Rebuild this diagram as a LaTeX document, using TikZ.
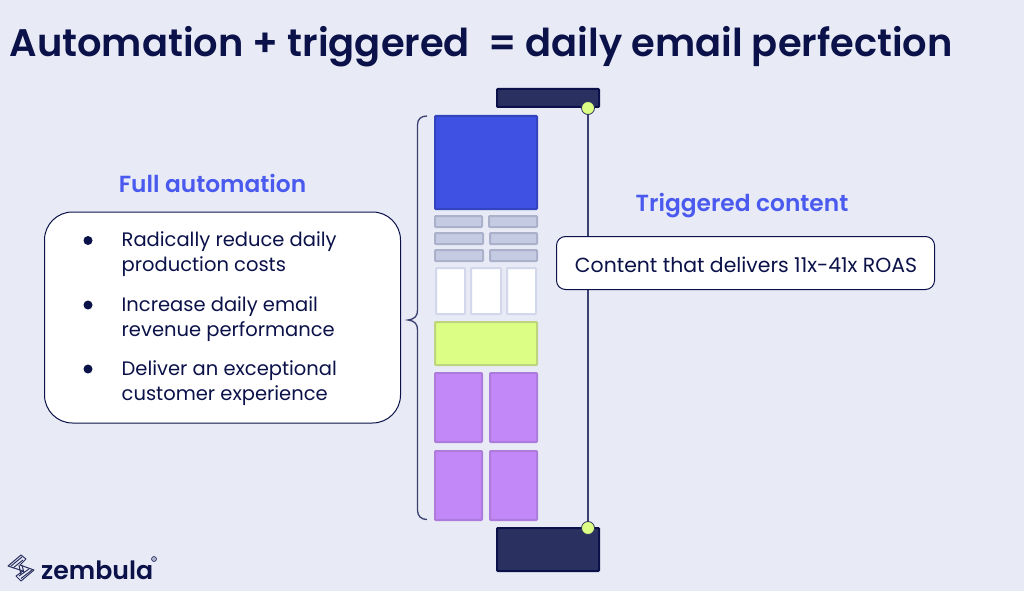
\documentclass[tikz,border=0pt]{standalone}
\usepackage{fontspec}
\setmainfont{Poppins}
\newfontfamily\semi{Poppins SemiBold}
\definecolor{bg}{HTML}{E8EBF6}
\definecolor{navy}{HTML}{0B1149}
\definecolor{darkbox}{HTML}{2A3060}
\definecolor{railc}{HTML}{3A4070}
\definecolor{royal}{HTML}{3F51E3}
\definecolor{royaledge}{HTML}{3345BE}
\definecolor{heading}{HTML}{4A5AEF}
\definecolor{lime}{HTML}{DCFE85}
\definecolor{limeedge}{HTML}{BDD57F}
\definecolor{grayfill}{HTML}{C6CBE4}
\definecolor{grayedge}{HTML}{ABB0CB}
\definecolor{whiteedge}{HTML}{D3D7EC}
\definecolor{purple}{HTML}{C388F7}
\definecolor{purpleedge}{HTML}{AD7BDC}
\tikzset{
  x=1pt,y=-1pt,
  bluebox/.style={draw=royaledge,fill=royal,line width=2pt,rounded corners=.8pt},
  graybox/.style={draw=grayedge,fill=grayfill,line width=2pt,rounded corners=.8pt},
  whitebox/.style={draw=whiteedge,fill=white,line width=2pt,rounded corners=.8pt},
  limebox/.style={draw=limeedge,fill=lime,line width=2pt,rounded corners=.8pt},
  purplebox/.style={draw=purpleedge,fill=purple,line width=2pt,rounded corners=.8pt},
  navybox/.style={draw=navy,fill=darkbox,line width=2pt,rounded corners=.8pt},
  conn/.style={draw=railc,line width=1.3pt},
  dot/.style={circle,draw=darkbox,fill=lime,line width=.8pt,minimum size=13pt,inner sep=0pt},
  callout/.style={draw=navy,fill=white,line width=1pt,rounded corners=#1,inner sep=0pt},
  head/.style={text=heading,font=\fontsize{23.3}{27}\semi,inner sep=0pt},
  body/.style={text=navy,font=\fontsize{19.5}{24.5}\selectfont,inner sep=0pt,anchor=west,align=left},
  bul/.style={circle,fill=navy,minimum size=9pt,inner sep=0pt},
}
\begin{document}
\begin{tikzpicture}
\useasboundingbox[fill=bg] (0,0) rectangle (1024,591);
\node[text=navy,font=\fontsize{38.4}{44}\semi,anchor=west,inner sep=0pt] (title) at (9.5,46.5) {Automation + triggered\ \ = daily email perfection};

% right rail
\path[navybox] (497,89) rectangle (599,107);
\path[navybox] (497,528) rectangle (599,571);
\coordinate (t1) at (588,108);
\coordinate (t2) at (588,528);
\draw[conn] (t1) -- (t2);
\node[dot] (d1) at (t1) {};
\node[dot] (d2) at (t2) {};

% email column
\path[bluebox] (435,116) rectangle (537,209);
\path[graybox] (435,216) rectangle (482,227);
\path[graybox] (489,216) rectangle (537,227);
\path[graybox] (435,233) rectangle (483,244);
\path[graybox] (490,233) rectangle (537,244);
\path[graybox] (435,250) rectangle (483,261);
\path[graybox] (490,250) rectangle (537,261);
\path[whitebox] (436,268) rectangle (465,314);
\path[whitebox] (471,268) rectangle (501,314);
\path[whitebox] (507,268) rectangle (536,314);
\path[limebox] (435,322) rectangle (537,365);
\path[purplebox] (435,373) rectangle (482,442);
\path[purplebox] (490,373) rectangle (537,442);
\path[purplebox] (435,451) rectangle (482,520);
\path[purplebox] (490,451) rectangle (537,520);

% brace
\draw[conn] (427,116) .. controls (421,116) and (417.5,119) .. (417.5,125) -- (417.5,310)
  .. controls (417.5,316) and (415,319) .. (408,320)
  .. controls (415,321) and (417.5,324) .. (417.5,330) -- (417.5,510)
  .. controls (417.5,516) and (421,519.5) .. (427,519.5);

% left panel
\node[head] (h1) at (212.5,183.5) {Full automation};
\node[callout=28pt,minimum width=356pt,minimum height=211pt] (p1) at (222.5,317.5) {};
\node[body] (l1) at (121.5,254) {Radically reduce daily\\production costs};
\node[body] (l2) at (121.5,319) {Increase daily email\\revenue performance};
\node[body] (l3) at (121.5,383) {Deliver an exceptional\\customer experience};
\node[bul] (b1) at (88,240.5) {};
\node[bul] (b2) at (88,305) {};
\node[bul] (b3) at (88,369) {};

% right panel
\node[head] (h2) at (742,206) {Triggered content};
\node[callout=9pt,minimum width=378pt,minimum height=53pt] (p2) at (745.5,263) {};
\node[text=navy,font=\fontsize{20.4}{24}\selectfont,inner sep=0pt] (c2) at (746,265) {Content that delivers 11x-41x ROAS};

% logo
\begin{scope}[draw=darkbox,line width=1pt,line join=round]
  \draw (8,566) -- (21,555) -- (26,559) -- (20,565) -- (34,570) -- (21,581) -- (16,576) -- (23,571) -- cycle;
  \draw (11,566) -- (22,557);
  \draw (13,568) -- (23,560);
  \draw (32,570) -- (21,578.5);
  \draw (29,569) -- (19,576);
  \draw (19,565) -- (21,575);
  \draw (22,565) -- (24,573);
\end{scope}
\node[text=navy,font=\fontsize{25.2}{28}\semi,anchor=west,inner sep=0pt] (logo) at (41,570) {zembula};
\node[draw=navy,fill=grayedge,circle,line width=.5pt,minimum size=5pt,inner sep=0pt] (reg) at (154,559) {};
\end{tikzpicture}
\end{document}
